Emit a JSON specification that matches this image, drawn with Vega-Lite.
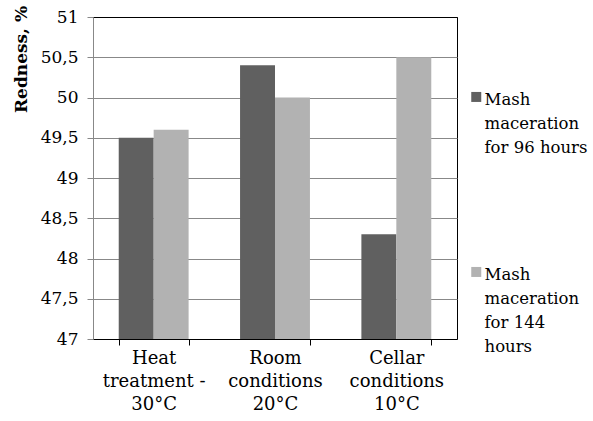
{
  "$schema": "https://vega.github.io/schema/vega-lite/v6.json",
  "width": 364,
  "height": 322,
  "autosize": {"type": "none"},
  "padding": {"left": 93, "top": 17, "right": 136, "bottom": 82},
  "background": "white",
  "view": {"stroke": "#000000", "strokeWidth": 1},
  "config": {
    "font": "DejaVu Serif",
    "axis": {"labelFont": "DejaVu Serif", "titleFont": "DejaVu Serif"},
    "legend": {"labelFont": "DejaVu Serif"},
    "style": {"guide-label": {"lineHeight": 24, "font": "DejaVu Serif"}}
  },
  "data": {
    "values": [
      {"condition": "Heat treatment - 30°C", "series": "Mash maceration for 96 hours", "redness": 49.5},
      {"condition": "Heat treatment - 30°C", "series": "Mash maceration for 144 hours", "redness": 49.6},
      {"condition": "Room conditions 20°C", "series": "Mash maceration for 96 hours", "redness": 50.4},
      {"condition": "Room conditions 20°C", "series": "Mash maceration for 144 hours", "redness": 50.0},
      {"condition": "Cellar conditions 10°C", "series": "Mash maceration for 96 hours", "redness": 48.3},
      {"condition": "Cellar conditions 10°C", "series": "Mash maceration for 144 hours", "redness": 50.5}
    ]
  },
  "mark": {"type": "bar"},
  "encoding": {
    "x": {
      "field": "condition",
      "type": "nominal",
      "sort": null,
      "scale": {"paddingInner": 0.424, "paddingOuter": 0.212},
      "axis": {
        "title": null,
        "labelAngle": 0,
        "tickBand": "extent",
        "domainColor": "#000000",
        "tickColor": "#000000",
        "tickSize": 6,
        "labelFont": "DejaVu Serif",
        "labelFontSize": 18,
        "labelColor": "#000000",
        "labelPadding": 4,
        "labelLineHeight": 23,
        "labelBaseline": "top",
        "labelLimit": 300,
        "labelExpr": "datum.value == 'Heat treatment - 30°C' ? ['Heat', 'treatment -', '30°C'] : datum.value == 'Room conditions 20°C' ? ['Room', 'conditions', '20°C'] : datum.value == 'Cellar conditions 10°C' ? ['Cellar', 'conditions', '10°C'] : ''"
      }
    },
    "xOffset": {
      "field": "series",
      "type": "nominal",
      "sort": ["Mash maceration for 96 hours", "Mash maceration for 144 hours"],
      "scale": {"paddingInner": 0, "paddingOuter": 0}
    },
    "y": {
      "field": "redness",
      "type": "quantitative",
      "scale": {"domain": [47, 51], "nice": false, "zero": false},
      "axis": {
        "values": [47, 47.5, 48, 48.5, 49, 49.5, 50, 50.5, 51],
        "labelExpr": "replace(format(datum.value, ''), '.', ',')",
        "labelFont": "DejaVu Serif",
        "labelFontSize": 17,
        "labelColor": "#000000",
        "labelPadding": 9,
        "tickSize": 6,
        "tickColor": "#888888",
        "domainColor": "#888888",
        "grid": true,
        "gridColor": {"condition": {"test": "datum.value == 51", "value": "#000000"}, "value": "#888888"},
        "gridWidth": 1,
        "title": "Redness, %",
        "titleFont": "DejaVu Serif",
        "titleFontSize": 17,
        "titleFontWeight": "bold",
        "titleColor": "#000000",
        "titleAngle": -90,
        "titleX": -72,
        "titleY": 42,
        "titleAlign": "center",
        "titleBaseline": "middle"
      }
    },
    "y2": {"datum": 47},
    "color": {
      "field": "series",
      "type": "nominal",
      "sort": ["Mash maceration for 96 hours", "Mash maceration for 144 hours"],
      "scale": {"range": ["#606060", "#b2b2b2"]},
      "legend": {
        "title": null,
        "orient": "none",
        "legendX": 375,
        "legendY": 80,
        "padding": 0,
        "symbolType": "M-1,-2.66H1V-0.66H-1Z",
        "symbolSize": 100,
        "symbolStrokeWidth": 0,
        "labelFont": "DejaVu Serif",
        "labelFontSize": 16.5,
        "labelColor": "#000000",
        "labelBaseline": "alphabetic",
        "labelOffset": 0,
        "labelLimit": 300,
        "rowPadding": 109,
        "labelExpr": "datum.label == 'Mash maceration for 96 hours' ? ['Mash', 'maceration', 'for 96 hours'] : ['Mash', 'maceration', 'for 144', 'hours']"
      }
    }
  }
}
